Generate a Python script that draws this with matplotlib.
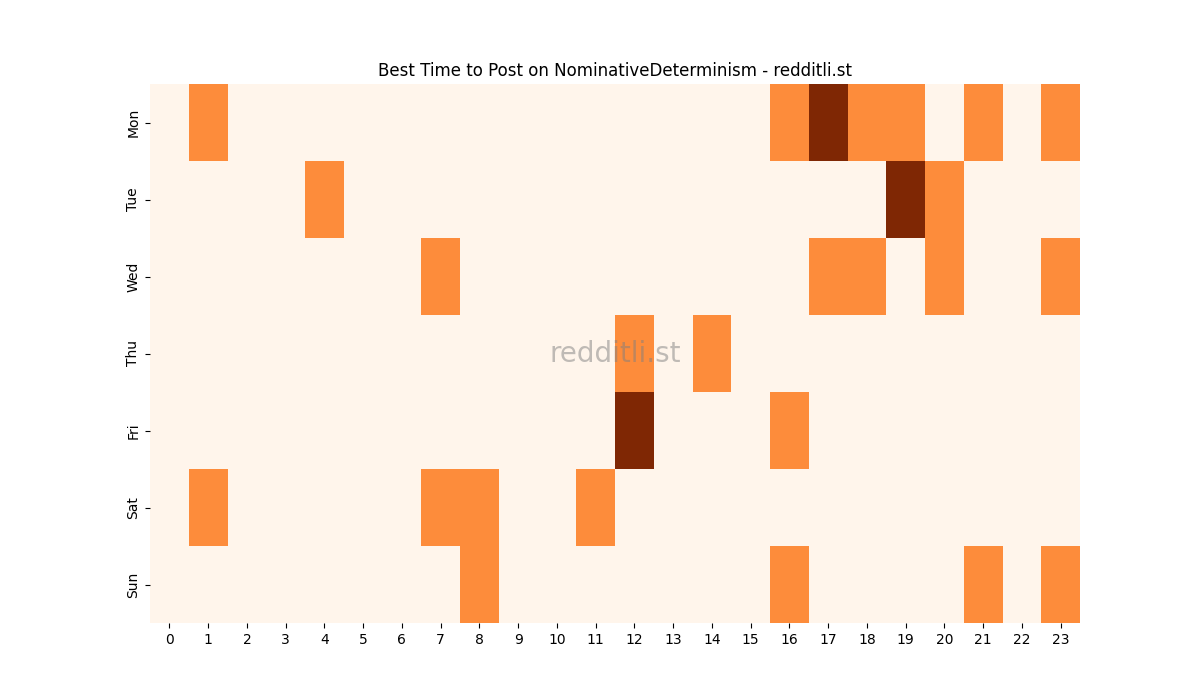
import matplotlib.pyplot as plt
import numpy as np

days = ['Mon', 'Tue', 'Wed', 'Thu', 'Fri', 'Sat', 'Sun']
hours = list(range(24))

# hour -> value (1 = medium, 2 = best), everything else 0
mon = {1: 1, 16: 1, 17: 2, 18: 1, 19: 1, 21: 1, 23: 1}
tue = {4: 1, 19: 2, 20: 1}
wed = {7: 1, 17: 1, 18: 1, 20: 1, 23: 1}
thu = {12: 1, 14: 1}
fri = {12: 2, 16: 1}
sat = {1: 1, 7: 1, 8: 1, 11: 1}
sun = {8: 1, 16: 1, 21: 1, 23: 1}

rows = [mon, tue, wed, thu, fri, sat, sun]
data = np.array([[r.get(h, 0) for h in hours] for r in rows])

fig, ax = plt.subplots(figsize=(12, 7), dpi=100)
ax.pcolormesh(data, cmap='Oranges', vmin=0, vmax=2)
ax.set_xlim(0, len(hours))
ax.set_ylim(len(days), 0)

ax.set_xticks(np.arange(len(hours)) + 0.5)
ax.set_xticklabels(hours)
ax.set_yticks(np.arange(len(days)) + 0.5)
ax.set_yticklabels(days, rotation=90, va='center')
for s in ax.spines.values():
    s.set_visible(False)

ax.set_title('Best Time to Post on NominativeDeterminism - redditli.st')
ax.text(0.5, 0.5, 'redditli.st', transform=ax.transAxes, fontsize=20,
        color='gray', alpha=0.5, ha='center', va='center')

plt.savefig('out.png')
